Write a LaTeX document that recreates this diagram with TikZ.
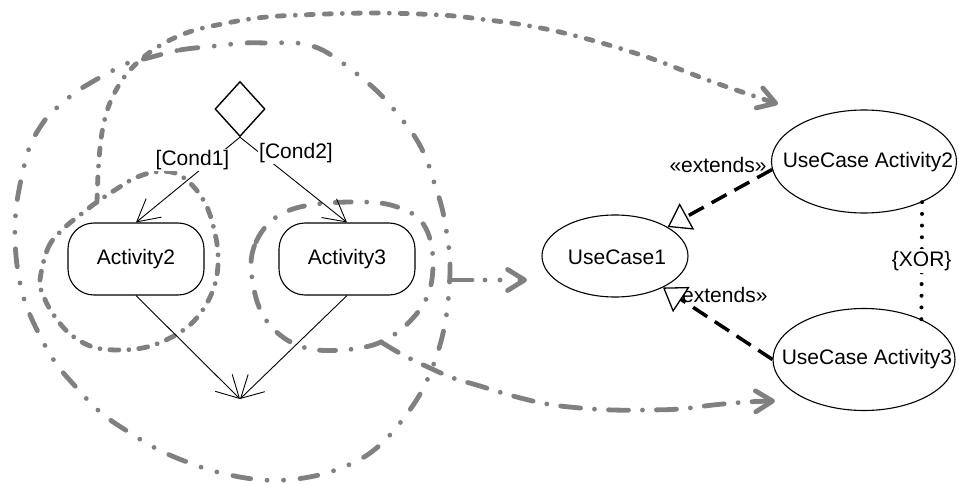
\documentclass[tikz,border=0pt]{standalone}
\usepackage{fontspec}
\setmainfont{Liberation Sans}
\usetikzlibrary{arrows.meta,shapes.geometric}

\definecolor{sketchgray}{RGB}{128,128,128}

\tikzset{
  decision/.style={diamond, draw, line width=1.4pt, minimum width=50pt,
    minimum height=55pt, inner sep=0pt},
  activity/.style={rectangle, draw, line width=1.1pt, rounded corners=26pt,
    minimum width=136pt, minimum height=72pt, inner sep=0pt},
  usecase/.style={ellipse, draw, line width=1.1pt, inner sep=0pt},
  flow/.style={line width=0.9pt, -{Straight Barb[length=22pt,width=24pt]}},
  guard/.style={fill=white, inner sep=1.5pt},
  extendline/.style={line width=3.5pt, dash pattern=on 17pt off 9pt,
    -{Triangle[fill=white, length=22pt, width=30pt, line width=1.3pt]}},
  xorline/.style={line width=4pt, line cap=round, dash pattern=on 0pt off 11.7pt},
  sketch/.style={draw=sketchgray, line width=4.8pt, line cap=round, line join=round},
  sketchtip/.style={-{Straight Barb[length=17pt, width=21pt, round]}},
  dashdotdot/.style={dash pattern=on 18pt off 16.5pt on 0pt off 16.5pt on 0pt off 16.5pt},
  dashdashdot/.style={dash pattern=on 7pt off 11pt on 7pt off 11pt on 0pt off 11pt},
  dashdotC/.style={dash pattern=on 9pt off 10pt on 0pt off 10pt},
  dashdotD/.style={dash pattern=on 16pt off 15.5pt on 0pt off 15.5pt},
  dashdotE/.style={dash pattern=on 20pt off 14pt on 0pt off 14pt},
  dashdotF/.style={dash pattern=on 22pt off 13pt on 0pt off 15pt on 0pt off 20pt},
}

\begin{document}
\begin{tikzpicture}[x=1pt, y=-1pt, font=\fontsize{21}{25}\selectfont]
\useasboundingbox (0,0) rectangle (959,484);

% ---------- activity diagram ----------
\node[decision] (dec) at (240,109) {};
\node[activity] (act2) at (136,259) {Activity2};
\node[activity] (act3) at (347,259) {Activity3};
\coordinate (join) at (240,399);

% ---------- use case diagram ----------
\node[usecase, minimum width=146pt, minimum height=82pt] (uc1) at (615,256) {};
\node at (617,257) {UseCase1};
\node[usecase, minimum width=185pt, minimum height=103pt] (uca2) at (864,161.5) {};
\node at (868,162) {UseCase Activity2};
\node[usecase, minimum width=182pt, minimum height=102pt] (uca3) at (864,359.5) {};
\node at (867,359) {UseCase Activity3};

% ---------- hand-drawn regions and mapping arrows ----------
\coordinate (c2hook) at (97,202);
\coordinate (d3hook) at (381,342);
\coordinate (ahook)  at (450,280);
\coordinate (toUCA2) at (778,104);
\coordinate (toUCA3) at (775,401);
\coordinate (toUC1)  at (527,280);

% region around the whole activity
\draw[sketch, dashdotdot] plot[smooth cycle, tension=0.6] coordinates {
  (148,58) (180,50) (215,46) (245,43) (270,43) (297,43) (318,48) (337,59)
  (362,78) (382,96) (400,117) (415,137) (426,158) (434,182) (442,208)
  (447,235) (450,262) (449,290) (446,318) (440,345) (431,371) (419,396)
  (400,423) (380,445) (357,461) (323,474) (286,480) (253,479) (217,472)
  (187,462) (157,449) (127,431) (100,412) (75,386) (55,362) (38,332)
  (25,302) (18,272) (15,240) (16,210) (21,180) (30,146) (45,120) (60,105)
  (76,92) (92,82) (110,72) (128,63)};

% region around Activity2
\draw[sketch, dashdotC] plot[smooth cycle, tension=0.6] coordinates {
  (40,280) (48,248) (62,230) (80,215) (97,202) (115,190) (135,178)
  (155,172) (175,173) (192,185) (205,203) (213,225) (218,253) (216,280)
  (207,303) (192,323) (172,337) (147,347) (120,350) (93,347) (70,334)
  (53,314) (43,295)};

% region around Activity3
\draw[sketch, dashdotD] plot[smooth cycle, tension=0.6] coordinates {
  (251,265) (256,242) (270,222) (290,210) (317,204) (350,202) (380,203)
  (400,208) (417,217) (428,233) (433,258) (431,285) (424,303) (413,318)
  (398,332) (381,342) (365,347) (343,350) (317,350) (297,345) (280,335)
  (266,320) (256,298)};

% Activity2 region -> UseCase Activity2
\draw[sketch, dashdashdot, sketchtip] plot[smooth, tension=0.6] coordinates {
  (c2hook) (98,175) (100,148) (103,127) (108,108) (115,92) (125,76)
  (138,62) (153,50) (170,40) (192,31) (217,25) (257,18) (300,15) (373,13)
  (440,15) (480,19) (530,26) (580,37) (647,57) (713,82) (toUCA2)};

% Activity3 region -> UseCase Activity3
\draw[sketch, dashdotE, sketchtip] plot[smooth, tension=0.6] coordinates {
  (d3hook) (403,355) (430,368) (453,378) (480,386) (513,396) (547,404)
  (580,408) (613,410) (647,410) (680,409) (713,405) (747,402) (toUCA3)};

% whole activity -> UseCase1
\draw[sketch, dashdotF, sketchtip] (ahook) -- (toUC1);

% ---------- activity flows ----------
\draw[flow] (dec.south) -- (act2.north);
\draw[flow] (dec.south) -- (act3.north);
\node[guard] (g1) at (192.5,160) {[Cond1]};
\node[guard] (g2) at (296,153) {[Cond2]};
\draw[flow] (act2.south) -- (join);
\draw[flow] (act3.south) -- (join);

% ---------- use case relations ----------
\node (ext1) at (718,165) {«extends»};
\node (ext2) at (719,295) {«extends»};
\draw[extendline] (uca2.185) -- (uc1);
\draw[extendline] (uca3.west) -- (uc1);
\draw[xorline] (uca2.-35) -- node[fill=white, inner sep=2pt] (xor) {\{XOR\}} (uca3.35);
\end{tikzpicture}
\end{document}
